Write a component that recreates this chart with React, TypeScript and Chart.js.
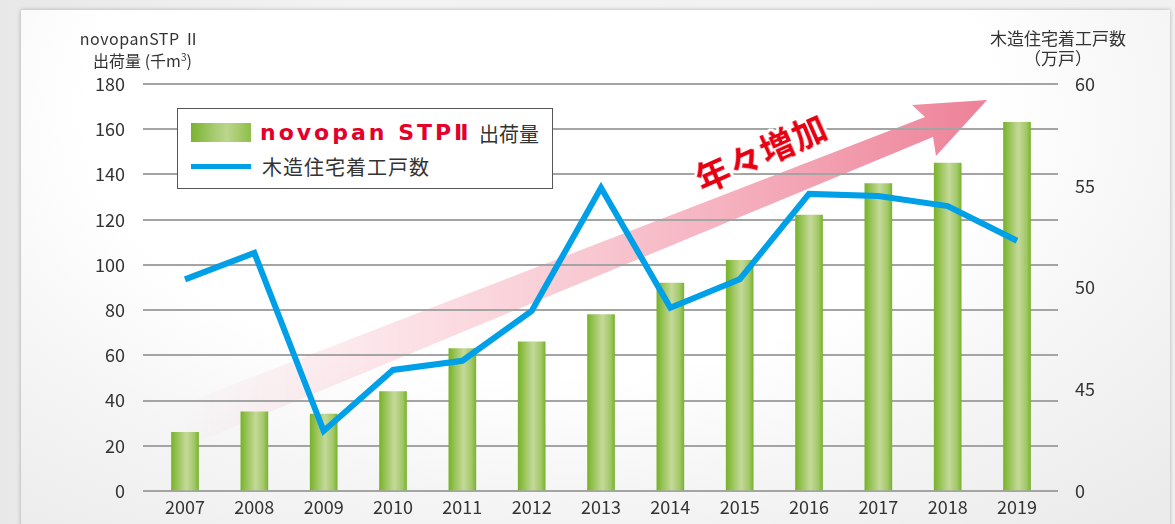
import React, { useEffect, useRef } from "react";
import { Chart, registerables } from "chart.js";

Chart.register(...registerables);

// ---- data ----
const years = [2007, 2008, 2009, 2010, 2011, 2012, 2013, 2014, 2015, 2016, 2017, 2018, 2019];
const shipments = [26, 35, 34, 44, 63, 66, 78, 92, 102, 122, 136, 145, 163]; // 千m3
const housingStarts = [50.4, 51.7, 42.95, 45.95, 46.4, 48.85, 54.9, 49.0, 50.4, 54.6, 54.5, 54.0, 52.3]; // 万戸
const leftTicks = [0, 20, 40, 60, 80, 100, 120, 140, 160, 180];
const rightTicks = [40, 45, 50, 55, 60];
const rightTickLabels = ["0", "45", "50", "55", "60"];

const FONT = "'Noto Sans CJK JP', 'Noto Sans', sans-serif";
const TEXT = "#333333";

const arrowPlugin = {
  id: "trendArrow",
  beforeDraw(chart: any) {
    const ctx = chart.ctx as CanvasRenderingContext2D;
    ctx.save();
    const g = ctx.createLinearGradient(180, 0, 987, 0);
    g.addColorStop(0, "rgba(242,140,160,0)");
    g.addColorStop(0.45, "rgba(242,140,160,0.42)");
    g.addColorStop(1, "rgba(236,122,146,0.95)");
    ctx.fillStyle = g;
    ctx.beginPath();
    ctx.moveTo(180, 405);
    ctx.lineTo(925, 117);
    ctx.lineTo(912, 105);
    ctx.lineTo(987, 100);
    ctx.lineTo(936, 156);
    ctx.lineTo(933, 137);
    ctx.lineTo(190, 445);
    ctx.closePath();
    ctx.fill();
    ctx.restore();
  },
};

function barGradient(c: any) {
  const chart = c.chart;
  if (!chart.chartArea || c.type !== "data" || !c.raw) return "#9cc65a";
  const cx = chart.scales.x.getPixelForValue(c.raw.x);
  const g = chart.ctx.createLinearGradient(cx - 13.5, 0, cx + 13.5, 0);
  g.addColorStop(0, "#78b22c");
  g.addColorStop(0.18, "#92c14e");
  g.addColorStop(0.55, "#c5d99a");
  g.addColorStop(0.85, "#a0c866");
  g.addColorStop(1, "#7ab32f");
  return g;
}

export default function App() {
  const ref = useRef<HTMLCanvasElement | null>(null);

  useEffect(() => {
    if (!ref.current) return;
    const chart = new Chart(ref.current, {
      type: "bar",
      data: {
        datasets: [
          {
            type: "line",
            label: "木造住宅着工戸数",
            data: years.map((y, i) => ({ x: y, y: housingStarts[i] })),
            yAxisID: "y2",
            borderColor: "#00a0e9",
            borderWidth: 6,
            pointRadius: 0,
            tension: 0,
            order: 0,
          } as any,
          {
            type: "bar",
            label: "novopan STPⅡ 出荷量",
            data: years.map((y, i) => ({ x: y, y: shipments[i] })),
            yAxisID: "y",
            backgroundColor: barGradient,
            barThickness: 27,
            order: 1,
          } as any,
        ],
      },
      options: {
        animation: false,
        responsive: false,
        maintainAspectRatio: false,
        layout: { padding: { top: 84, left: 0, right: 0, bottom: 0 } },
        plugins: { legend: { display: false }, tooltip: { enabled: false } },
        scales: {
          x: {
            type: "linear",
            offset: false,
            min: 2006.394,
            max: 2019.591,
            grid: { display: false },
            border: { display: false },
            afterBuildTicks: (a: any) => {
              a.ticks = years.map((v) => ({ value: v }));
            },
            ticks: {
              callback: (v: any) => String(v),
              font: { family: FONT, size: 18 },
              color: TEXT,
              padding: -3,
              maxRotation: 0,
              autoSkip: false,
            },
            afterFit: (s: any) => {
              s.height = 33;
            },
          },
          y: {
            position: "left",
            min: 0,
            max: 180,
            afterBuildTicks: (a: any) => {
              a.ticks = leftTicks.map((v) => ({ value: v }));
            },
            grid: { color: "#a4a4a4", lineWidth: 2, drawTicks: false },
            border: { display: false },
            ticks: { font: { family: FONT, size: 18 }, color: TEXT, padding: 18 },
            afterFit: (s: any) => {
              s.width = 143;
            },
          },
          y2: {
            position: "right",
            min: 40,
            max: 60,
            afterBuildTicks: (a: any) => {
              a.ticks = rightTicks.map((v) => ({ value: v }));
            },
            grid: { display: false, drawTicks: false },
            border: { display: false },
            ticks: {
              font: { family: FONT, size: 18 },
              color: TEXT,
              padding: 17,
              callback: (v: any) => {
                const i = rightTicks.indexOf(Number(v));
                return i >= 0 ? rightTickLabels[i] : "";
              },
            },
            afterFit: (s: any) => {
              s.width = 117;
            },
          },
        },
      } as any,
      plugins: [arrowPlugin],
    });
    return () => chart.destroy();
  }, []);

  const abs = (o: React.CSSProperties): React.CSSProperties => ({ position: "absolute", ...o });

  return (
    <div
      style={{
        position: "fixed",
        left: 0,
        top: 0,
        width: 1175,
        height: 524,
        overflow: "hidden",
        background: "linear-gradient(to right, #e8e8e8, #f3f3f3 30%, #f1f1f1)",
        fontFamily: FONT,
      }}
    >
      <div
        style={abs({
          left: 21,
          top: 10,
          width: 1149,
          height: 540,
          background:
            "radial-gradient(ellipse 78% 100% at 45% 18%, #ffffff 50%, #f5f5f5 72%, #ebebeb 100%)",
          boxShadow: "0 0 4px rgba(0,0,0,0.28)",
        })}
      />
      <canvas ref={ref} width={1175} height={524} style={abs({ left: 0, top: 0, width: 1175, height: 524 })} />

      {/* left axis title */}
      <div style={abs({ left: 60, top: 28, width: 160, textAlign: "center", fontSize: 16, lineHeight: "20px", color: TEXT, letterSpacing: 0.5, whiteSpace: "nowrap" })}>
        novopanSTP Ⅱ
      </div>
      <div style={abs({ left: 60, top: 50, width: 165, textAlign: "center", fontSize: 16, lineHeight: "20px", color: TEXT, whiteSpace: "nowrap" })}>
        出荷量 (千m<sup style={{ fontSize: 10, verticalAlign: "6px", lineHeight: 0 }}>3</sup>)
      </div>

      {/* right axis title */}
      <div style={abs({ left: 978, top: 28, width: 160, textAlign: "center", fontSize: 17, lineHeight: "20px", color: TEXT, whiteSpace: "nowrap" })}>
        木造住宅着工戸数
      </div>
      <div style={abs({ left: 1008, top: 48, width: 100, textAlign: "center", fontSize: 17, lineHeight: "20px", color: TEXT, whiteSpace: "nowrap" })}>
        （万戸）
      </div>

      {/* legend */}
      <div
        style={abs({
          left: 177,
          top: 108,
          width: 374,
          height: 79,
          background: "#ffffff",
          border: "1.5px solid #555555",
        })}
      >
        <div
          style={abs({
            left: 13,
            top: 14,
            width: 60,
            height: 19,
            background: "linear-gradient(to right, #7ab32f, #a8cc72 40%, #bcd58d 60%, #8fbf4a)",
          })}
        />
        <div
          style={abs({
            left: 82,
            top: 11,
            fontFamily: "'DejaVu Sans', sans-serif",
            fontWeight: 700,
            fontSize: 22,
            lineHeight: "26px",
            letterSpacing: 3,
            color: "#e4002b",
            whiteSpace: "nowrap",
          })}
        >
          novopan STPⅡ
        </div>
        <div style={abs({ left: 301, top: 13, fontSize: 20, lineHeight: "24px", color: TEXT, whiteSpace: "nowrap" })}>
          出荷量
        </div>
        <div style={abs({ left: 13, top: 55, width: 60, height: 5, background: "#00a0e9" })} />
        <div style={abs({ left: 84, top: 46, fontSize: 20, lineHeight: "24px", letterSpacing: 1, color: TEXT, whiteSpace: "nowrap" })}>
          木造住宅着工戸数
        </div>
      </div>

      {/* trend label */}
      <div
        style={abs({
          left: 761,
          top: 152,
          transform: "translate(-50%, -50%) rotate(-24deg)",
          fontSize: 34,
          fontWeight: 700,
          lineHeight: "40px",
          letterSpacing: 1,
          color: "#e60012",
          whiteSpace: "nowrap",
          textShadow:
            "0 0 3px #fff, 0 0 3px #fff, 3px 0 0 #fff, -3px 0 0 #fff, 0 3px 0 #fff, 0 -3px 0 #fff, 2px 2px 0 #fff, -2px -2px 0 #fff, 2px -2px 0 #fff, -2px 2px 0 #fff",
        })}
      >
        年々増加
      </div>
    </div>
  );
}
